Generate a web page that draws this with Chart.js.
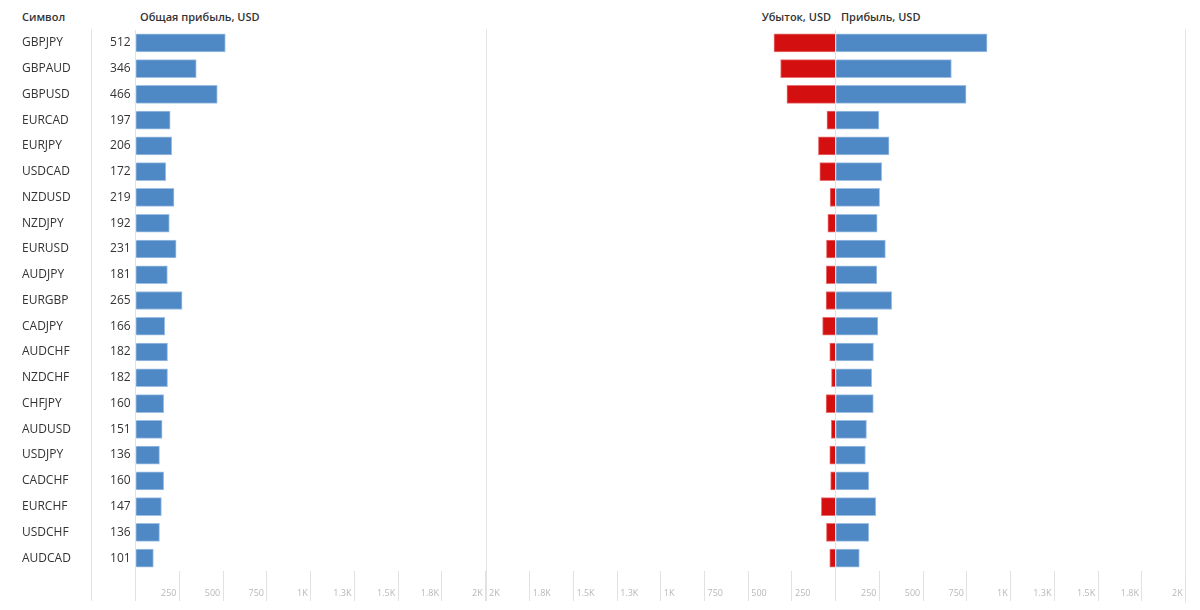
<!DOCTYPE html>
<html><head><meta charset="utf-8">
<script src="https://cdn.jsdelivr.net/npm/chart.js@4/dist/chart.umd.min.js"></script>
<style>
html,body{margin:0;padding:0;background:#fff;}
#wrap{position:relative;width:1200px;height:610px;overflow:hidden;font-family:"Open Sans",sans-serif;}
.c{position:absolute;top:0;}
.h{position:absolute;top:9px;font-size:11px;font-weight:600;color:#333;white-space:nowrap;}
.vl{position:absolute;width:1px;background:#e4e4e4;}
</style></head>
<body><div id="wrap">
<div class="h" style="left:22px">Символ</div>
<div class="h" style="left:140px">Общая прибыль, USD</div>
<div class="h" style="right:369px">Убыток, USD</div>
<div class="h" style="left:841px">Прибыль, USD</div>
<div class="vl" style="left:91px;top:29px;height:572px"></div>
<div class="vl" style="left:486px;top:29px;height:572px"></div>
<div class="vl" style="left:1185px;top:29px;height:574px"></div>
<div class="c" style="left:0;width:490px;height:610px"><canvas id="cA" width="490" height="610"></canvas></div>
<div class="c" style="left:480px;width:360px;height:610px"><canvas id="cB" width="360" height="610"></canvas></div>
<div class="c" style="left:830px;width:370px;height:610px"><canvas id="cC" width="370" height="610"></canvas></div>
</div>
<script>
const symbols = ['GBPJPY','GBPAUD','GBPUSD','EURCAD','EURJPY','USDCAD','NZDUSD','NZDJPY','EURUSD','AUDJPY','EURGBP','CADJPY','AUDCHF','NZDCHF','CHFJPY','AUDUSD','USDJPY','CADCHF','EURCHF','USDCHF','AUDCAD'];
const totals  = [512,346,466,197,206,172,219,192,231,181,265,166,182,182,160,151,136,160,147,136,101];
const losses  = [353,315,279,50,99,91,32,45,53,54,55,75,34,24,55,25,34,29,82,53,34];
const profits = [865,661,745,247,305,263,251,237,284,235,320,241,216,206,215,176,170,189,229,189,135];
const tickValues = [0,250,500,750,1000,1250,1500,1750,2000];
const tickLabels = ['','250','500','750','1K','1.3K','1.5K','1.8K','2K'];

const BLUE = '#4f89c5', BLUE_B = '#9fc0e4', RED = '#d40f0f', RED_B = '#e87070';
const FONT = '"Open Sans", sans-serif';
const ROW_TOP = 30, ROW_BOTTOM = 571;

function xScale(opts) {
  return Object.assign({
    type: 'linear', position: 'bottom', min: 0, max: 2000,
    afterBuildTicks: s => { s.ticks = tickValues.map(v => ({value: v})); },
    afterFit: s => { s.height = 610 - ROW_BOTTOM; },
    grid: { drawOnChartArea: false, drawTicks: true, tickLength: 30, color: '#e2e2e2', lineWidth: 1 },
    border: { display: false },
    ticks: {
      autoSkip: false, maxRotation: 0, padding: -13,
      font: { family: FONT, size: 9 }, color: '#b8b8b8',
      callback: v => tickLabels[tickValues.indexOf(v)] ?? ''
    }
  }, opts);
}

const valueLabels = {
  id: 'valueLabels',
  afterDatasetsDraw(chart) {
    const {ctx, chartArea, scales: {y}} = chart;
    ctx.save();
    ctx.font = '12px ' + FONT;
    ctx.fillStyle = '#333';
    ctx.textAlign = 'right';
    ctx.textBaseline = 'middle';
    totals.forEach((v, i) => ctx.fillText(String(v), chartArea.left - 5, y.getPixelForValue(i)));
    ctx.restore();
  }
};

function baseOptions(padding, scales) {
  return {
    responsive: false, animation: false, indexAxis: 'y',
    layout: { padding },
    plugins: { legend: { display: false }, tooltip: { enabled: false } },
    scales
  };
}

new Chart(document.getElementById('cA'), {
  type: 'bar',
  data: { labels: symbols, datasets: [{ data: totals, backgroundColor: BLUE, borderColor: BLUE_B, borderWidth: 1, barThickness: 18 }] },
  options: baseOptions({ left: 22, top: ROW_TOP, right: 4.3, bottom: 0 }, {
    x: xScale({ ticks: Object.assign({}, xScale().ticks, { align: 'end', labelOffset: -3 }) }),
    y: {
      type: 'category',
      afterFit: s => { s.width = 135.7 - 22; },
      grid: { display: false },
      border: { display: true, color: '#e2e2e2' },
      ticks: { autoSkip: false, crossAlign: 'far', font: { family: FONT, size: 12 }, color: '#333' }
    }
  }),
  plugins: [valueLabels]
});

new Chart(document.getElementById('cB'), {
  type: 'bar',
  data: { labels: symbols, datasets: [{ data: losses, backgroundColor: RED, borderColor: RED_B, borderWidth: 1, barThickness: 18 }] },
  options: baseOptions({ left: 6, top: ROW_TOP, right: 4.3, bottom: 0 }, {
    x: xScale({ reverse: true, ticks: Object.assign({}, xScale().ticks, { align: 'start', labelOffset: 3 }) }),
    y: { type: 'category', display: false }
  })
});

new Chart(document.getElementById('cC'), {
  type: 'bar',
  data: { labels: symbols, datasets: [{ data: profits, backgroundColor: BLUE, borderColor: BLUE_B, borderWidth: 1, barThickness: 18 }] },
  options: baseOptions({ left: 5.7, top: ROW_TOP, right: 14.3, bottom: 0 }, {
    x: xScale({ ticks: Object.assign({}, xScale().ticks, { align: 'end', labelOffset: -3 }) }),
    y: {
      type: 'category',
      afterFit: s => { s.width = 0; },
      grid: { display: false },
      border: { display: true, color: '#e2e2e2' },
      ticks: { display: false }
    }
  })
});
</script>
</body></html>
